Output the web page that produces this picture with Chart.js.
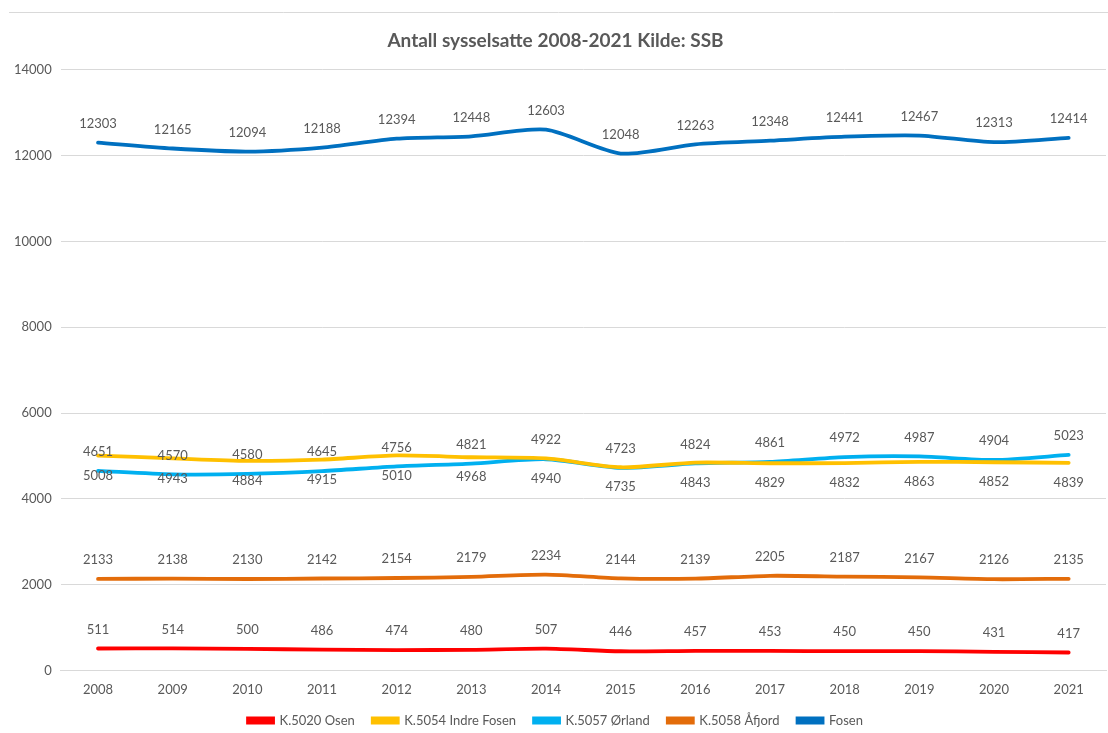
<!DOCTYPE html>
<html>
<head>
<meta charset="utf-8">
<script src="https://cdn.jsdelivr.net/npm/chart.js@4"></script>
<style>
  html, body { margin: 0; padding: 0; background: #fff; }
  #wrap { width: 1108px; height: 733px; position: relative; }
</style>
</head>
<body>
<div id="wrap"><canvas id="myChart"></canvas></div>
<script>
// data
const years = ["2008", "2009", "2010", "2011", "2012", "2013", "2014",
    "2015", "2016", "2017", "2018", "2019", "2020", "2021"];
const osen = [511, 514, 500, 486, 474, 480, 507, 446, 457, 453, 450, 450, 431, 417];
const indreFosen = [5008, 4943, 4884, 4915, 5010, 4968, 4940, 4735, 4843, 4829, 4832, 4863, 4852, 4839];
const orland = [4651, 4570, 4580, 4645, 4756, 4821, 4922, 4723, 4824, 4861, 4972, 4987, 4904, 5023];
const afjord = [2133, 2138, 2130, 2142, 2154, 2179, 2234, 2144, 2139, 2205, 2187, 2167, 2126, 2135];
const fosen = [12303, 12165, 12094, 12188, 12394, 12448, 12603, 12048, 12263, 12348, 12441, 12467, 12313, 12414];
const yTicks = [0, 2000, 4000, 6000, 8000, 10000, 12000, 14000];

const textColor = "#595959";
const fontFamily = "Lato, 'Open Sans', sans-serif";

// value labels above / below each point (no datalabels plugin available)
const pointLabels = {
    id: "pointLabels",
    afterDatasetsDraw(chart) {
        const ctx = chart.ctx;
        ctx.save();
        ctx.font = "13px " + fontFamily;
        ctx.fillStyle = textColor;
        ctx.textAlign = "center";
        ctx.textBaseline = "middle";
        chart.data.datasets.forEach((ds, i) => {
            const meta = chart.getDatasetMeta(i);
            const off = ds.labelPos === "below" ? 20 : -19;
            meta.data.forEach((pt, j) => {
                ctx.fillText(String(ds.data[j]), pt.x, pt.y + off);
            });
        });
        ctx.restore();
    }
};

// thin frame line at top like the original chart border
const frameLine = {
    id: "frameLine",
    beforeDraw(chart) {
        const ctx = chart.ctx;
        ctx.save();
        ctx.strokeStyle = "#d9d9d9";
        ctx.lineWidth = 1;
        ctx.beginPath();
        ctx.moveTo(9, 12.5);
        ctx.lineTo(chart.width, 12.5);
        ctx.stroke();
        ctx.restore();
    }
};

// legend takes less room than chart.js gives it, so the plot can go lower
const LIFT = 18;
const legendLift = {
    id: "legendLift",
    beforeLayout(chart) {
        const lg = chart.legend;
        if (lg && !lg._lifted) {
            const fit = lg.fit;
            lg.fit = function () {
                fit.apply(this, arguments);
                this.height -= LIFT;
            };
            lg._lifted = true;
        }
    },
    afterLayout(chart) {
        const lg = chart.legend;
        if (lg) {
            // move the top back up, keep bottom at the canvas edge (legend clips to its box)
            lg.top -= LIFT - 4;
            lg.height = lg.bottom - lg.top;
        }
    }
};

function series(label, data, color, pos) {
    return {
        label: label,
        data: data,
        borderColor: color,
        backgroundColor: color,
        borderWidth: 3.8,
        pointRadius: 0,
        pointHoverRadius: 0,
        tension: 0.25,
        borderCapStyle: "round",
        labelPos: pos
    };
}

var ctx = document.getElementById("myChart").getContext("2d");
var myChart = new Chart(ctx, {
    type: "line",
    data: {
        labels: years,
        datasets: [
            series("K.5020 Osen", osen, "#FF0000", "above"),
            series("K.5054 Indre Fosen", indreFosen, "#FFC000", "below"),
            series("K.5057 Ørland", orland, "#00B0F0", "above"),
            series("K.5058 Åfjord", afjord, "#E36C0A", "above"),
            series("Fosen", fosen, "#0070C0", "above"),
        ],
    },
    options: {
        responsive: true,
        maintainAspectRatio: false,
        animation: false,
        layout: { padding: { left: 5, right: 2, top: 19, bottom: 0 } },
        plugins: {
            title: {
                display: true,
                text: "Antall sysselsatte 2008-2021 Kilde: SSB",
                color: textColor,
                font: { family: fontFamily, size: 19, weight: "bold" },
                padding: { top: 10, bottom: 18 }
            },
            legend: {
                position: "bottom",
                labels: {
                    color: textColor,
                    font: { family: fontFamily, size: 13 },
                    boxWidth: 25,
                    boxHeight: 4,
                    padding: 18
                }
            },
            tooltip: { enabled: false }
        },
        scales: {
            x: {
                offset: true,
                grid: { display: false, drawTicks: false },
                border: { color: "#d9d9d9" },
                ticks: { color: textColor, font: { family: fontFamily, size: 13 }, padding: 12 }
            },
            y: {
                min: 0,
                max: 14000,
                afterBuildTicks: (axis) => { axis.ticks = yTicks.map(v => ({ value: v })); },
                grid: { color: "#d9d9d9", drawTicks: false },
                border: { display: false },
                ticks: {
                    color: textColor,
                    font: { family: fontFamily, size: 13 },
                    padding: 9,
                    callback: (v) => String(v)
                }
            }
        }
    },
    plugins: [legendLift, pointLabels, frameLine]
});
</script>
</body>
</html>
